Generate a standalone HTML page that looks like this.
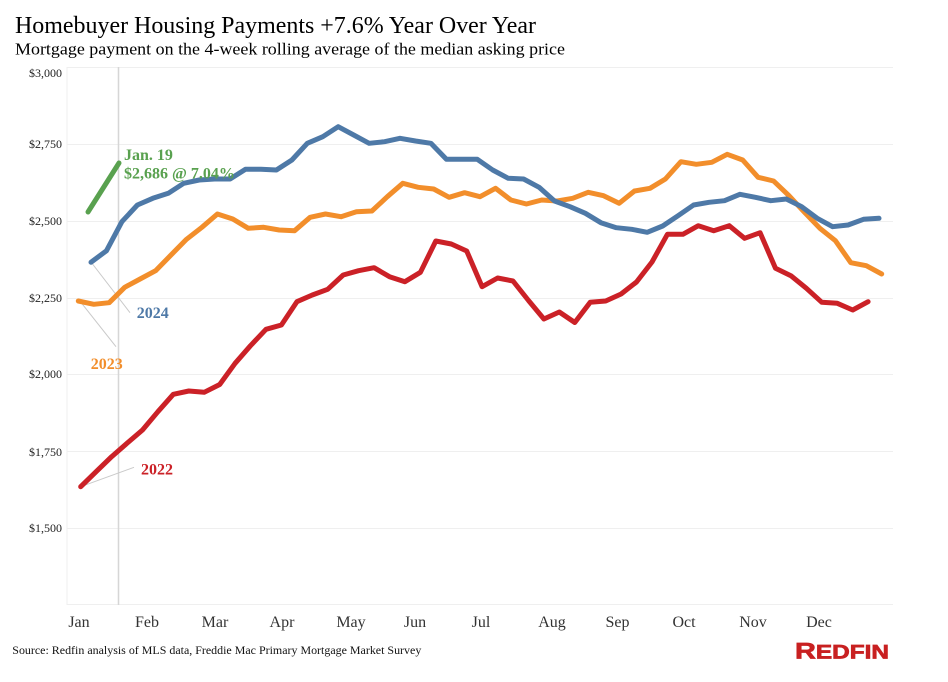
<!DOCTYPE html>
<html>
<head>
<meta charset="utf-8">
<style>
  html, body { margin: 0; padding: 0; background: #ffffff; }
  svg { display: block; }
  text { font-family: "Liberation Serif", "Times New Roman", serif; }
</style>
</head>
<body>
<svg width="948" height="682" viewBox="0 0 948 682" xmlns="http://www.w3.org/2000/svg">
  <rect x="0" y="0" width="948" height="682" fill="#ffffff"/>

  <!-- Title & subtitle -->
  <text x="15" y="33" font-size="24" fill="#000" textLength="521" lengthAdjust="spacingAndGlyphs">Homebuyer Housing Payments +7.6% Year Over Year</text>
  <text x="15" y="54.5" font-size="17" fill="#000" textLength="550" lengthAdjust="spacingAndGlyphs">Mortgage payment on the 4-week rolling average of the median asking price</text>

  <!-- Gridlines -->
  <g stroke="#efefef" stroke-width="1" fill="none">
    <line x1="67" y1="67.5" x2="893" y2="67.5"/>
    <line x1="67" y1="144.5" x2="893" y2="144.5"/>
    <line x1="67" y1="221.5" x2="893" y2="221.5"/>
    <line x1="67" y1="298.5" x2="893" y2="298.5"/>
    <line x1="67" y1="374.5" x2="893" y2="374.5"/>
    <line x1="67" y1="451.5" x2="893" y2="451.5"/>
    <line x1="67" y1="528.5" x2="893" y2="528.5"/>
    <line x1="67" y1="604.5" x2="893" y2="604.5"/>
    <line x1="67" y1="67" x2="67" y2="605"/>
  </g>

  <!-- Y axis labels -->
  <g font-size="12" fill="#222" text-anchor="end">
    <text x="62" y="77">$3,000</text>
    <text x="62" y="148">$2,750</text>
    <text x="62" y="225">$2,500</text>
    <text x="62" y="302">$2,250</text>
    <text x="62" y="378">$2,000</text>
    <text x="62" y="456">$1,750</text>
    <text x="62" y="532">$1,500</text>
  </g>

  <!-- X axis labels -->
  <g font-size="16" fill="#333" text-anchor="middle">
    <text x="79" y="627">Jan</text>
    <text x="147" y="627">Feb</text>
    <text x="215" y="627">Mar</text>
    <text x="282" y="627">Apr</text>
    <text x="351" y="627">May</text>
    <text x="415" y="627">Jun</text>
    <text x="481" y="627">Jul</text>
    <text x="552" y="627">Aug</text>
    <text x="617.5" y="627">Sep</text>
    <text x="684" y="627">Oct</text>
    <text x="753" y="627">Nov</text>
    <text x="819" y="627">Dec</text>
  </g>

  <!-- Reference vertical line (Jan 19) -->
  <line x1="118.5" y1="67" x2="118.5" y2="605" stroke="#d6d6d6" stroke-width="1.5"/>

  <!-- Leader lines -->
  <g stroke="#c9c9c9" stroke-width="1" fill="none">
    <line x1="91" y1="262" x2="130" y2="312.7"/>
    <line x1="81.7" y1="303.3" x2="116" y2="346.7"/>
    <line x1="80.7" y1="486.7" x2="134" y2="467.3"/>
  </g>

  <!-- Series -->
  <g fill="none" stroke-width="5" stroke-linejoin="round" stroke-linecap="round">
    <!-- 2022 red -->
    <polyline stroke="#cb2127" points="
      80.7,486.7 96.1,471.7 111.6,456.7 127.0,443.3 142.5,430 157.9,411.7 173.3,394.3 188.8,391
      204.2,392.3 219.7,384.5 235.1,363.3 250.5,345.7 266.0,329.3 281.4,325 296.9,301.7 312.3,295
      327.7,289.3 343.2,275 358.6,270.7 374.1,267.7 389.5,276.7 404.9,281.7 420.4,272.3 435.8,241
      451.3,244 466.7,251 482.1,286.7 497.6,278 513.0,281 528.5,300.5 543.9,319 559.3,312
      574.8,322.5 590.2,302.3 605.7,301 621.1,294 636.5,282 652.0,262 667.4,234.3 682.9,234.3
      698.3,225.7 713.7,230.7 729.2,225.7 744.6,238.3 760.1,232.7 775.5,268.3 790.9,275.7 806.4,288.3
      821.8,302.3 837.3,303.3 852.7,310 868.1,301.7"/>
    <!-- 2023 orange -->
    <polyline stroke="#f28e2b" points="
      78.3,301 93.8,304.3 109.2,302.7 124.7,287.3 140.1,279 155.6,270.7 171.0,255 186.5,239.3
      201.9,227.3 217.4,214 232.8,219 248.3,228.3 263.7,227.3 279.2,230 294.6,230.7 310.1,217.3
      325.5,214 341.0,216.7 356.4,211.7 371.9,211 387.3,196.7 402.8,183.3 418.2,187.3 433.7,189
      449.1,197.3 464.6,192.7 480.0,196.7 495.5,188.3 510.9,200 526.4,204 541.8,200 557.3,201
      572.7,198.3 588.2,192.3 603.6,195.7 619.1,203.3 634.5,191 650.0,188.3 665.4,179 680.9,161.7
      696.3,164.3 711.8,162.3 727.2,154.3 742.7,160 758.1,177.3 773.6,181 789.0,195.7 804.5,212.3
      819.9,228.3 835.4,240.7 850.8,262.7 866.3,265.7 881.7,274"/>
    <!-- 2024 blue -->
    <polyline stroke="#4e79a7" points="
      91.0,262.3 106.5,250.7 121.9,221.7 137.4,205 152.8,198.3 168.3,193.3 183.7,183.3 199.2,180
      214.6,179 230.1,179 245.5,169.3 261.0,169.3 276.4,170 291.9,160 307.3,143.3 322.8,136.7
      338.2,126.7 353.7,135 369.1,143.3 384.6,141.7 400.0,138.3 415.5,141 430.9,143.3 446.4,159.3
      461.8,159.3 477.3,159.3 492.7,170 508.2,178.3 523.6,179 539.1,187.3 554.5,201 570.0,206.7
      585.4,213.3 600.9,222.7 616.3,227.7 631.8,229.3 647.2,232.3 662.7,226 678.1,215.7 693.6,205
      709.0,202.3 724.5,200.7 739.9,194.3 755.4,197.3 770.8,200.7 786.3,199 801.7,206.7 817.2,218.3
      832.6,226.7 848.1,225 863.5,219.3 879.0,218.3"/>
    <!-- 2025 green -->
    <polyline stroke="#59a14f" points="88,212 103.5,187.5 119,163"/>
  </g>

  <!-- Annotations -->
  <g font-size="16" font-weight="bold">
    <text x="124" y="160" fill="#59a14f">Jan. 19</text>
    <text x="124" y="178.3" fill="#59a14f">$2,686 @ 7.04%</text>
    <text x="136.7" y="318" fill="#4e79a7">2024</text>
    <text x="90.7" y="369" fill="#f28e2b">2023</text>
    <text x="141" y="474.5" fill="#cb2127">2022</text>
  </g>

  <!-- Source -->
  <text x="12.3" y="654" font-size="12" fill="#111" textLength="409" lengthAdjust="spacingAndGlyphs">Source: Redfin analysis of MLS data, Freddie Mac Primary Mortgage Market Survey</text>

  <!-- Redfin logo -->
  <text x="795" y="658.3" fill="#c82021" stroke="#c82021" stroke-width="0.7" font-weight="bold" textLength="94" lengthAdjust="spacingAndGlyphs" style="font-family: 'Liberation Sans', Arial, sans-serif;"><tspan font-size="22.5">R</tspan><tspan font-size="19">EDFIN</tspan></text>
</svg>
</body>
</html>
